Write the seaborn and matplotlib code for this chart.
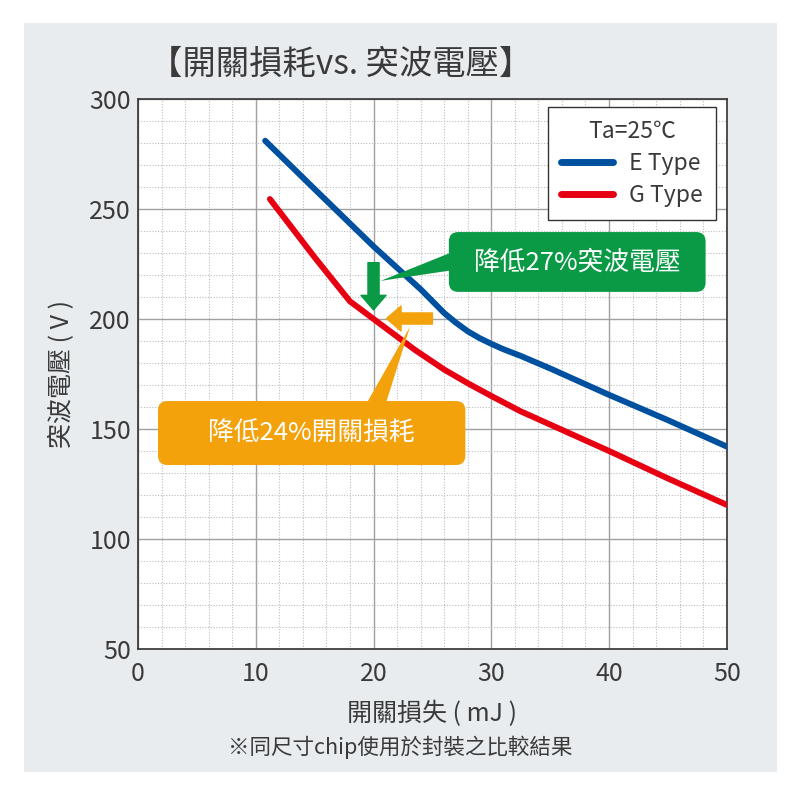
import pandas as pd
import seaborn as sns
import matplotlib.pyplot as plt
from matplotlib.patches import FancyBboxPatch, Polygon, Rectangle
from matplotlib.ticker import MultipleLocator

sns.set_style('white')
plt.rcParams['font.family'] = ['Noto Sans CJK TC', 'DejaVu Sans']

# curves
e_loss = [10.8, 15, 20, 24, 26, 27, 28, 29, 30, 31, 32.5, 35, 40, 45, 50]
e_volt = [281, 259, 233, 213.5, 202.7, 198.3, 194.4, 191.3, 188.7, 186.3, 183.2, 177.5, 165.5, 154, 142]
g_loss = [11.2, 15, 18, 20, 23.5, 26, 28, 30, 32.5, 35, 40, 45, 50]
g_volt = [254.5, 228, 208, 200, 186, 177, 170.8, 165, 158, 152, 140, 127.5, 115.5]

series_names = ['E Type', 'G Type']
series_colors = ['#0050a0', '#e60012']

title = '【開關損耗vs. 突波電壓】'
x_label = '開關損失 ( mJ )'
y_label = '突波電壓 ( V )'
note = '※同尺寸chip使用於封裝之比較結果'
legend_title = 'Ta=25℃'
green_text = '降低27%突波電壓'
orange_text = '降低24%開關損耗'

green = '#0a9a46'
orange = '#f3a20c'
txt = '#3a3a3a'

df = pd.concat([
    pd.DataFrame({'loss': e_loss, 'volt': e_volt, 'type': series_names[0]}),
    pd.DataFrame({'loss': g_loss, 'volt': g_volt, 'type': series_names[1]}),
])

fig = plt.figure(figsize=(8, 7.96), dpi=100)
fig.patch.set_facecolor('white')
fig.patches.append(Rectangle((24 / 800, 1 - 772 / 796), 753 / 800, 749 / 796,
                             transform=fig.transFigure, facecolor='#e8ecef',
                             edgecolor='none', zorder=-1))

ax = fig.add_axes([0.1725, 0.1847, 0.736, 0.691])
ax.set_facecolor('white')

sns.lineplot(data=df, x='loss', y='volt', hue='type', palette=series_colors,
             linewidth=4.3, ax=ax, zorder=3)

ax.set_xlim(0, 50)
ax.set_ylim(50, 300)
ax.xaxis.set_major_locator(MultipleLocator(10))
ax.xaxis.set_minor_locator(MultipleLocator(2))
ax.yaxis.set_major_locator(MultipleLocator(50))
ax.yaxis.set_minor_locator(MultipleLocator(10))
ax.grid(which='major', color='#a0a0a0', linewidth=1.0, linestyle='-', zorder=0)
ax.grid(which='minor', color='#bdbdbd', linewidth=0.8, linestyle=(0, (1, 1.5)), zorder=0)
ax.set_axisbelow(True)
for s in ax.spines.values():
    s.set_color('#333333')
    s.set_linewidth(1.2)
ax.tick_params(which='both', length=0, labelsize=18, labelcolor=txt)
ax.tick_params(axis='x', pad=9)
ax.tick_params(axis='y', pad=5)

ax.set_xlabel(x_label, fontsize=18, color=txt, labelpad=10)
ax.set_ylabel(y_label, fontsize=18, color=txt, labelpad=10)
fig.text(341 / 800, 1 - 64 / 796, title, ha='center', va='center', fontsize=24, color=txt)
fig.text(0.5, 1 - 747 / 796, note, ha='center', va='center', fontsize=15.5, color=txt)

handles, labels = ax.get_legend_handles_labels()
leg = ax.legend(handles, labels, title=legend_title, loc='upper right',
                bbox_to_anchor=(0.981, 0.985), borderaxespad=0,
                fontsize=16.5, title_fontsize=16.5,
                frameon=True, fancybox=False, edgecolor='#333333', framealpha=1,
                handlelength=2.3, handletextpad=0.7, borderpad=0.55,
                labelspacing=0.4, labelcolor=txt)
leg.get_title().set_color(txt)
leg.get_frame().set_linewidth(1.0)
for h in leg.get_lines():
    h.set_linewidth(5)
leg.set_zorder(10)

# green callout
ax.add_patch(FancyBboxPatch((26.4, 212.3), 21.8, 27.2,
                            boxstyle='round,pad=0,rounding_size=0.8',
                            mutation_aspect=5.3, facecolor=green,
                            edgecolor='none', zorder=5))
ax.add_patch(Polygon([(26.5, 230), (26.5, 222), (20.6, 217.3)], closed=True,
                     facecolor=green, edgecolor='none', zorder=5))
ax.text(37.3, 225.8, green_text, ha='center', va='center', fontsize=18.5,
        color='white', zorder=6)
ax.annotate('', xy=(20, 204.1), xytext=(20, 225.6),
            arrowprops=dict(arrowstyle='simple,head_width=1.8,head_length=1.05,tail_width=0.8',
                            mutation_scale=10, color=green, shrinkA=0, shrinkB=0),
            zorder=6)

# orange callout
ax.add_patch(FancyBboxPatch((1.7, 133.6), 26.1, 29.1,
                            boxstyle='round,pad=0,rounding_size=0.8',
                            mutation_aspect=5.3, facecolor=orange,
                            edgecolor='none', zorder=5))
ax.add_patch(Polygon([(19.5, 162.5), (21.1, 162.5), (23.1, 196.5)], closed=True,
                     facecolor=orange, edgecolor='none', zorder=5))
ax.text(14.75, 148.2, orange_text, ha='center', va='center', fontsize=18.5,
        color='white', zorder=6)
ax.annotate('', xy=(21.1, 200.2), xytext=(25.0, 200.2),
            arrowprops=dict(arrowstyle='simple,head_width=1.8,head_length=1.05,tail_width=0.8',
                            mutation_scale=10, color=orange, shrinkA=0, shrinkB=0),
            zorder=6)

fig.savefig('out.png', dpi=100, facecolor='white')
